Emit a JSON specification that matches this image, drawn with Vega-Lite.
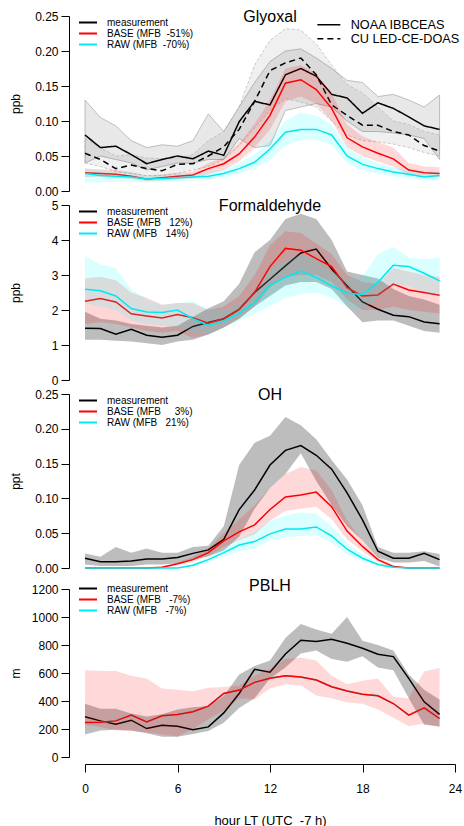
{
"$schema": "https://vega.github.io/schema/vega-lite/v6.json",
"background": "white",
"padding": {"left": 9, "top": 9, "right": 0, "bottom": 0},
"config": {
  "font": "Liberation Sans",
  "view": {"stroke": null},
  "axis": {"grid": false, "domainColor": "black", "tickColor": "black", "labelColor": "black", "titleColor": "black", "labelFontSize": 12, "titleFontSize": 12, "titleFontWeight": "normal", "tickSize": 8, "domainWidth": 1, "tickWidth": 1, "labelFlush": false, "labelOverlap": false},
  "axisY": {"offset": 16, "labelPadding": 3, "titleX": -50, "titleBaseline": "alphabetic", "labelOverlap": false},
  "title": {"fontSize": 16, "fontWeight": "normal", "color": "black", "frame": "group", "anchor": "middle", "baseline": "middle", "offset": -15},
  "legend": {"orient": "none", "title": null, "padding": 0, "labelColor": "black", "labelLimit": 400}
},
"datasets": {"d": [
{"p":"g","s":"M","i":"N","h":0,"v":0.080,"lo":0.040,"hi":0.130},
{"p":"g","s":"M","i":"N","h":1,"v":0.062,"lo":0.050,"hi":0.105},
{"p":"g","s":"M","i":"N","h":2,"v":0.064,"lo":0.045,"hi":0.093},
{"p":"g","s":"M","i":"N","h":3,"v":0.052,"lo":0.040,"hi":0.072},
{"p":"g","s":"M","i":"N","h":4,"v":0.039,"lo":0.030,"hi":0.062},
{"p":"g","s":"M","i":"N","h":5,"v":0.045,"lo":0.035,"hi":0.066},
{"p":"g","s":"M","i":"N","h":6,"v":0.050,"lo":0.040,"hi":0.064},
{"p":"g","s":"M","i":"N","h":7,"v":0.046,"lo":0.040,"hi":0.072},
{"p":"g","s":"M","i":"N","h":8,"v":0.057,"lo":0.045,"hi":0.110},
{"p":"g","s":"M","i":"N","h":9,"v":0.051,"lo":0.045,"hi":0.085},
{"p":"g","s":"M","i":"N","h":10,"v":0.099,"lo":0.075,"hi":0.120},
{"p":"g","s":"M","i":"N","h":11,"v":0.128,"lo":0.062,"hi":0.155},
{"p":"g","s":"M","i":"N","h":12,"v":0.123,"lo":0.065,"hi":0.185},
{"p":"g","s":"M","i":"N","h":13,"v":0.166,"lo":0.115,"hi":0.200},
{"p":"g","s":"M","i":"N","h":14,"v":0.175,"lo":0.120,"hi":0.203},
{"p":"g","s":"M","i":"N","h":15,"v":0.164,"lo":0.125,"hi":0.190},
{"p":"g","s":"M","i":"N","h":16,"v":0.138,"lo":0.120,"hi":0.175},
{"p":"g","s":"M","i":"N","h":17,"v":0.133,"lo":0.100,"hi":0.158},
{"p":"g","s":"M","i":"N","h":18,"v":0.111,"lo":0.085,"hi":0.155},
{"p":"g","s":"M","i":"N","h":19,"v":0.126,"lo":0.085,"hi":0.135},
{"p":"g","s":"M","i":"N","h":20,"v":0.118,"lo":0.083,"hi":0.138},
{"p":"g","s":"M","i":"N","h":21,"v":0.106,"lo":0.080,"hi":0.130},
{"p":"g","s":"M","i":"N","h":22,"v":0.093,"lo":0.075,"hi":0.120},
{"p":"g","s":"M","i":"N","h":23,"v":0.088,"lo":0.045,"hi":0.137},
{"p":"g","s":"M","i":"C","h":0,"v":0.054,"lo":0.040,"hi":0.075},
{"p":"g","s":"M","i":"C","h":1,"v":0.045,"lo":0.035,"hi":0.062},
{"p":"g","s":"M","i":"C","h":2,"v":0.032,"lo":0.028,"hi":0.050},
{"p":"g","s":"M","i":"C","h":3,"v":0.037,"lo":0.025,"hi":0.052},
{"p":"g","s":"M","i":"C","h":4,"v":0.032,"lo":0.022,"hi":0.047},
{"p":"g","s":"M","i":"C","h":5,"v":0.029,"lo":0.022,"hi":0.046},
{"p":"g","s":"M","i":"C","h":6,"v":0.038,"lo":0.025,"hi":0.047},
{"p":"g","s":"M","i":"C","h":7,"v":0.039,"lo":0.030,"hi":0.052},
{"p":"g","s":"M","i":"C","h":8,"v":0.050,"lo":0.035,"hi":0.072},
{"p":"g","s":"M","i":"C","h":9,"v":0.063,"lo":0.045,"hi":0.085},
{"p":"g","s":"M","i":"C","h":10,"v":0.088,"lo":0.065,"hi":0.120},
{"p":"g","s":"M","i":"C","h":11,"v":0.128,"lo":0.090,"hi":0.180},
{"p":"g","s":"M","i":"C","h":12,"v":0.172,"lo":0.115,"hi":0.215},
{"p":"g","s":"M","i":"C","h":13,"v":0.183,"lo":0.132,"hi":0.232},
{"p":"g","s":"M","i":"C","h":14,"v":0.190,"lo":0.127,"hi":0.230},
{"p":"g","s":"M","i":"C","h":15,"v":0.166,"lo":0.120,"hi":0.210},
{"p":"g","s":"M","i":"C","h":16,"v":0.123,"lo":0.100,"hi":0.180},
{"p":"g","s":"M","i":"C","h":17,"v":0.108,"lo":0.080,"hi":0.152},
{"p":"g","s":"M","i":"C","h":18,"v":0.094,"lo":0.072,"hi":0.140},
{"p":"g","s":"M","i":"C","h":19,"v":0.094,"lo":0.070,"hi":0.120},
{"p":"g","s":"M","i":"C","h":20,"v":0.085,"lo":0.067,"hi":0.100},
{"p":"g","s":"M","i":"C","h":21,"v":0.080,"lo":0.062,"hi":0.095},
{"p":"g","s":"M","i":"C","h":22,"v":0.065,"lo":0.055,"hi":0.085},
{"p":"g","s":"M","i":"C","h":23,"v":0.057,"lo":0.050,"hi":0.080},
{"p":"g","s":"B","h":0,"v":0.026,"lo":0.020,"hi":0.032},
{"p":"g","s":"B","h":1,"v":0.025,"lo":0.020,"hi":0.031},
{"p":"g","s":"B","h":2,"v":0.024,"lo":0.019,"hi":0.030},
{"p":"g","s":"B","h":3,"v":0.021,"lo":0.017,"hi":0.027},
{"p":"g","s":"B","h":4,"v":0.017,"lo":0.014,"hi":0.022},
{"p":"g","s":"B","h":5,"v":0.019,"lo":0.015,"hi":0.024},
{"p":"g","s":"B","h":6,"v":0.021,"lo":0.017,"hi":0.026},
{"p":"g","s":"B","h":7,"v":0.023,"lo":0.018,"hi":0.028},
{"p":"g","s":"B","h":8,"v":0.032,"lo":0.024,"hi":0.040},
{"p":"g","s":"B","h":9,"v":0.039,"lo":0.030,"hi":0.048},
{"p":"g","s":"B","h":10,"v":0.053,"lo":0.042,"hi":0.068},
{"p":"g","s":"B","h":11,"v":0.077,"lo":0.062,"hi":0.096},
{"p":"g","s":"B","h":12,"v":0.108,"lo":0.088,"hi":0.130},
{"p":"g","s":"B","h":13,"v":0.154,"lo":0.128,"hi":0.175},
{"p":"g","s":"B","h":14,"v":0.159,"lo":0.135,"hi":0.180},
{"p":"g","s":"B","h":15,"v":0.145,"lo":0.125,"hi":0.168},
{"p":"g","s":"B","h":16,"v":0.118,"lo":0.100,"hi":0.140},
{"p":"g","s":"B","h":17,"v":0.076,"lo":0.062,"hi":0.095},
{"p":"g","s":"B","h":18,"v":0.063,"lo":0.050,"hi":0.078},
{"p":"g","s":"B","h":19,"v":0.054,"lo":0.042,"hi":0.070},
{"p":"g","s":"B","h":20,"v":0.046,"lo":0.035,"hi":0.062},
{"p":"g","s":"B","h":21,"v":0.030,"lo":0.022,"hi":0.040},
{"p":"g","s":"B","h":22,"v":0.026,"lo":0.020,"hi":0.035},
{"p":"g","s":"B","h":23,"v":0.025,"lo":0.020,"hi":0.034},
{"p":"g","s":"R","h":0,"v":0.025,"lo":0.012,"hi":0.032},
{"p":"g","s":"R","h":1,"v":0.022,"lo":0.012,"hi":0.030},
{"p":"g","s":"R","h":2,"v":0.021,"lo":0.013,"hi":0.028},
{"p":"g","s":"R","h":3,"v":0.020,"lo":0.013,"hi":0.026},
{"p":"g","s":"R","h":4,"v":0.017,"lo":0.012,"hi":0.022},
{"p":"g","s":"R","h":5,"v":0.018,"lo":0.013,"hi":0.023},
{"p":"g","s":"R","h":6,"v":0.019,"lo":0.014,"hi":0.024},
{"p":"g","s":"R","h":7,"v":0.020,"lo":0.015,"hi":0.025},
{"p":"g","s":"R","h":8,"v":0.021,"lo":0.016,"hi":0.027},
{"p":"g","s":"R","h":9,"v":0.025,"lo":0.019,"hi":0.031},
{"p":"g","s":"R","h":10,"v":0.032,"lo":0.025,"hi":0.040},
{"p":"g","s":"R","h":11,"v":0.041,"lo":0.032,"hi":0.052},
{"p":"g","s":"R","h":12,"v":0.060,"lo":0.044,"hi":0.072},
{"p":"g","s":"R","h":13,"v":0.084,"lo":0.065,"hi":0.100},
{"p":"g","s":"R","h":14,"v":0.088,"lo":0.072,"hi":0.112},
{"p":"g","s":"R","h":15,"v":0.088,"lo":0.073,"hi":0.108},
{"p":"g","s":"R","h":16,"v":0.080,"lo":0.066,"hi":0.095},
{"p":"g","s":"R","h":17,"v":0.050,"lo":0.040,"hi":0.062},
{"p":"g","s":"R","h":18,"v":0.038,"lo":0.030,"hi":0.048},
{"p":"g","s":"R","h":19,"v":0.032,"lo":0.025,"hi":0.040},
{"p":"g","s":"R","h":20,"v":0.027,"lo":0.021,"hi":0.034},
{"p":"g","s":"R","h":21,"v":0.024,"lo":0.018,"hi":0.030},
{"p":"g","s":"R","h":22,"v":0.020,"lo":0.015,"hi":0.026},
{"p":"g","s":"R","h":23,"v":0.022,"lo":0.015,"hi":0.028},
{"p":"f","s":"M","h":0,"v":1.48,"lo":1.15,"hi":1.95},
{"p":"f","s":"M","h":1,"v":1.47,"lo":1.15,"hi":1.75},
{"p":"f","s":"M","h":2,"v":1.31,"lo":1.12,"hi":1.70},
{"p":"f","s":"M","h":3,"v":1.45,"lo":1.10,"hi":1.60},
{"p":"f","s":"M","h":4,"v":1.28,"lo":1.05,"hi":1.55},
{"p":"f","s":"M","h":5,"v":1.22,"lo":1.00,"hi":1.50},
{"p":"f","s":"M","h":6,"v":1.28,"lo":1.10,"hi":1.55},
{"p":"f","s":"M","h":7,"v":1.53,"lo":1.15,"hi":1.80},
{"p":"f","s":"M","h":8,"v":1.64,"lo":1.30,"hi":2.05},
{"p":"f","s":"M","h":9,"v":1.75,"lo":1.50,"hi":2.25},
{"p":"f","s":"M","h":10,"v":2.02,"lo":1.75,"hi":2.75},
{"p":"f","s":"M","h":11,"v":2.50,"lo":2.10,"hi":3.65},
{"p":"f","s":"M","h":12,"v":2.88,"lo":2.40,"hi":4.00},
{"p":"f","s":"M","h":13,"v":3.26,"lo":2.70,"hi":4.60},
{"p":"f","s":"M","h":14,"v":3.63,"lo":2.80,"hi":4.75},
{"p":"f","s":"M","h":15,"v":3.74,"lo":2.80,"hi":4.60},
{"p":"f","s":"M","h":16,"v":3.17,"lo":2.60,"hi":4.00},
{"p":"f","s":"M","h":17,"v":2.69,"lo":2.10,"hi":3.10},
{"p":"f","s":"M","h":18,"v":2.23,"lo":1.65,"hi":3.00},
{"p":"f","s":"M","h":19,"v":2.02,"lo":1.70,"hi":2.90},
{"p":"f","s":"M","h":20,"v":1.85,"lo":1.70,"hi":2.60},
{"p":"f","s":"M","h":21,"v":1.81,"lo":1.55,"hi":2.40},
{"p":"f","s":"M","h":22,"v":1.66,"lo":1.40,"hi":2.30},
{"p":"f","s":"M","h":23,"v":1.61,"lo":1.35,"hi":2.15},
{"p":"f","s":"B","h":0,"v":2.25,"lo":1.60,"hi":2.90},
{"p":"f","s":"B","h":1,"v":2.33,"lo":1.65,"hi":2.95},
{"p":"f","s":"B","h":2,"v":2.23,"lo":1.60,"hi":2.85},
{"p":"f","s":"B","h":3,"v":1.89,"lo":1.50,"hi":2.50},
{"p":"f","s":"B","h":4,"v":1.83,"lo":1.40,"hi":2.35},
{"p":"f","s":"B","h":5,"v":1.77,"lo":1.35,"hi":2.15},
{"p":"f","s":"B","h":6,"v":1.87,"lo":1.40,"hi":2.20},
{"p":"f","s":"B","h":7,"v":1.78,"lo":1.20,"hi":2.20},
{"p":"f","s":"B","h":8,"v":1.62,"lo":1.30,"hi":2.00},
{"p":"f","s":"B","h":9,"v":1.75,"lo":1.50,"hi":2.10},
{"p":"f","s":"B","h":10,"v":2.02,"lo":1.75,"hi":2.40},
{"p":"f","s":"B","h":11,"v":2.50,"lo":2.10,"hi":3.00},
{"p":"f","s":"B","h":12,"v":3.24,"lo":2.65,"hi":3.85},
{"p":"f","s":"B","h":13,"v":3.76,"lo":2.95,"hi":4.25},
{"p":"f","s":"B","h":14,"v":3.71,"lo":3.00,"hi":4.20},
{"p":"f","s":"B","h":15,"v":3.47,"lo":3.00,"hi":3.90},
{"p":"f","s":"B","h":16,"v":3.24,"lo":2.80,"hi":3.60},
{"p":"f","s":"B","h":17,"v":2.64,"lo":2.30,"hi":3.00},
{"p":"f","s":"B","h":18,"v":2.40,"lo":2.00,"hi":2.80},
{"p":"f","s":"B","h":19,"v":2.43,"lo":2.00,"hi":2.75},
{"p":"f","s":"B","h":20,"v":2.74,"lo":2.10,"hi":3.20},
{"p":"f","s":"B","h":21,"v":2.57,"lo":2.00,"hi":3.10},
{"p":"f","s":"B","h":22,"v":2.50,"lo":1.95,"hi":3.00},
{"p":"f","s":"B","h":23,"v":2.42,"lo":1.90,"hi":2.95},
{"p":"f","s":"R","h":0,"v":2.59,"lo":2.20,"hi":3.55},
{"p":"f","s":"R","h":1,"v":2.55,"lo":2.10,"hi":3.30},
{"p":"f","s":"R","h":2,"v":2.40,"lo":2.00,"hi":3.20},
{"p":"f","s":"R","h":3,"v":2.04,"lo":1.70,"hi":2.60},
{"p":"f","s":"R","h":4,"v":1.94,"lo":1.60,"hi":2.30},
{"p":"f","s":"R","h":5,"v":1.93,"lo":1.55,"hi":2.15},
{"p":"f","s":"R","h":6,"v":2.00,"lo":1.50,"hi":2.20},
{"p":"f","s":"R","h":7,"v":1.75,"lo":1.35,"hi":2.25},
{"p":"f","s":"R","h":8,"v":1.56,"lo":1.30,"hi":2.00},
{"p":"f","s":"R","h":9,"v":1.69,"lo":1.50,"hi":2.00},
{"p":"f","s":"R","h":10,"v":1.91,"lo":1.70,"hi":2.20},
{"p":"f","s":"R","h":11,"v":2.21,"lo":1.90,"hi":2.50},
{"p":"f","s":"R","h":12,"v":2.71,"lo":2.10,"hi":3.20},
{"p":"f","s":"R","h":13,"v":2.93,"lo":2.35,"hi":3.40},
{"p":"f","s":"R","h":14,"v":3.11,"lo":2.45,"hi":3.60},
{"p":"f","s":"R","h":15,"v":2.93,"lo":2.50,"hi":3.45},
{"p":"f","s":"R","h":16,"v":2.69,"lo":2.35,"hi":3.10},
{"p":"f","s":"R","h":17,"v":2.48,"lo":2.10,"hi":2.90},
{"p":"f","s":"R","h":18,"v":2.44,"lo":2.00,"hi":2.95},
{"p":"f","s":"R","h":19,"v":2.79,"lo":2.35,"hi":3.60},
{"p":"f","s":"R","h":20,"v":3.28,"lo":2.70,"hi":3.80},
{"p":"f","s":"R","h":21,"v":3.24,"lo":2.70,"hi":3.50},
{"p":"f","s":"R","h":22,"v":3.05,"lo":2.50,"hi":3.45},
{"p":"f","s":"R","h":23,"v":2.83,"lo":2.40,"hi":3.50},
{"p":"o","s":"M","h":0,"v":0.014,"lo":0.005,"hi":0.021},
{"p":"o","s":"M","h":1,"v":0.009,"lo":0.003,"hi":0.016},
{"p":"o","s":"M","h":2,"v":0.009,"lo":0.003,"hi":0.030},
{"p":"o","s":"M","h":3,"v":0.010,"lo":0.003,"hi":0.022},
{"p":"o","s":"M","h":4,"v":0.013,"lo":0.005,"hi":0.028},
{"p":"o","s":"M","h":5,"v":0.013,"lo":0.005,"hi":0.022},
{"p":"o","s":"M","h":6,"v":0.015,"lo":0.007,"hi":0.022},
{"p":"o","s":"M","h":7,"v":0.021,"lo":0.012,"hi":0.030},
{"p":"o","s":"M","h":8,"v":0.026,"lo":0.017,"hi":0.032},
{"p":"o","s":"M","h":9,"v":0.041,"lo":0.025,"hi":0.060},
{"p":"o","s":"M","h":10,"v":0.084,"lo":0.045,"hi":0.148},
{"p":"o","s":"M","h":11,"v":0.112,"lo":0.085,"hi":0.180},
{"p":"o","s":"M","h":12,"v":0.148,"lo":0.115,"hi":0.190},
{"p":"o","s":"M","h":13,"v":0.169,"lo":0.135,"hi":0.217},
{"p":"o","s":"M","h":14,"v":0.176,"lo":0.165,"hi":0.205},
{"p":"o","s":"M","h":15,"v":0.162,"lo":0.125,"hi":0.185},
{"p":"o","s":"M","h":16,"v":0.142,"lo":0.090,"hi":0.155},
{"p":"o","s":"M","h":17,"v":0.108,"lo":0.060,"hi":0.127},
{"p":"o","s":"M","h":18,"v":0.069,"lo":0.040,"hi":0.090},
{"p":"o","s":"M","h":19,"v":0.024,"lo":0.015,"hi":0.030},
{"p":"o","s":"M","h":20,"v":0.014,"lo":0.008,"hi":0.022},
{"p":"o","s":"M","h":21,"v":0.014,"lo":0.008,"hi":0.022},
{"p":"o","s":"M","h":22,"v":0.021,"lo":0.010,"hi":0.024},
{"p":"o","s":"M","h":23,"v":0.012,"lo":0.002,"hi":0.020},
{"p":"o","s":"B","h":0,"v":0,"lo":0,"hi":0},
{"p":"o","s":"B","h":1,"v":0,"lo":0,"hi":0},
{"p":"o","s":"B","h":2,"v":0,"lo":0,"hi":0},
{"p":"o","s":"B","h":3,"v":0,"lo":0,"hi":0},
{"p":"o","s":"B","h":4,"v":0,"lo":0,"hi":0},
{"p":"o","s":"B","h":5,"v":0.001,"lo":0,"hi":0.002},
{"p":"o","s":"B","h":6,"v":0.006,"lo":0.004,"hi":0.008},
{"p":"o","s":"B","h":7,"v":0.012,"lo":0.009,"hi":0.016},
{"p":"o","s":"B","h":8,"v":0.022,"lo":0.017,"hi":0.028},
{"p":"o","s":"B","h":9,"v":0.039,"lo":0.030,"hi":0.050},
{"p":"o","s":"B","h":10,"v":0.052,"lo":0.040,"hi":0.070},
{"p":"o","s":"B","h":11,"v":0.062,"lo":0.048,"hi":0.090},
{"p":"o","s":"B","h":12,"v":0.084,"lo":0.068,"hi":0.115},
{"p":"o","s":"B","h":13,"v":0.102,"lo":0.082,"hi":0.135},
{"p":"o","s":"B","h":14,"v":0.105,"lo":0.085,"hi":0.145},
{"p":"o","s":"B","h":15,"v":0.109,"lo":0.088,"hi":0.140},
{"p":"o","s":"B","h":16,"v":0.088,"lo":0.070,"hi":0.112},
{"p":"o","s":"B","h":17,"v":0.053,"lo":0.041,"hi":0.068},
{"p":"o","s":"B","h":18,"v":0.031,"lo":0.024,"hi":0.040},
{"p":"o","s":"B","h":19,"v":0.012,"lo":0.009,"hi":0.016},
{"p":"o","s":"B","h":20,"v":0.002,"lo":0.001,"hi":0.004},
{"p":"o","s":"B","h":21,"v":0,"lo":0,"hi":0},
{"p":"o","s":"B","h":22,"v":0,"lo":0,"hi":0},
{"p":"o","s":"B","h":23,"v":0,"lo":0,"hi":0},
{"p":"o","s":"R","h":0,"v":0,"lo":0,"hi":0},
{"p":"o","s":"R","h":1,"v":0,"lo":0,"hi":0},
{"p":"o","s":"R","h":2,"v":0,"lo":0,"hi":0},
{"p":"o","s":"R","h":3,"v":0,"lo":0,"hi":0},
{"p":"o","s":"R","h":4,"v":0,"lo":0,"hi":0},
{"p":"o","s":"R","h":5,"v":0,"lo":0,"hi":0},
{"p":"o","s":"R","h":6,"v":0,"lo":0,"hi":0},
{"p":"o","s":"R","h":7,"v":0.004,"lo":0.002,"hi":0.006},
{"p":"o","s":"R","h":8,"v":0.012,"lo":0.008,"hi":0.016},
{"p":"o","s":"R","h":9,"v":0.022,"lo":0.016,"hi":0.028},
{"p":"o","s":"R","h":10,"v":0.033,"lo":0.024,"hi":0.042},
{"p":"o","s":"R","h":11,"v":0.038,"lo":0.028,"hi":0.052},
{"p":"o","s":"R","h":12,"v":0.049,"lo":0.040,"hi":0.068},
{"p":"o","s":"R","h":13,"v":0.056,"lo":0.044,"hi":0.075},
{"p":"o","s":"R","h":14,"v":0.056,"lo":0.046,"hi":0.080},
{"p":"o","s":"R","h":15,"v":0.059,"lo":0.047,"hi":0.078},
{"p":"o","s":"R","h":16,"v":0.046,"lo":0.036,"hi":0.060},
{"p":"o","s":"R","h":17,"v":0.027,"lo":0.020,"hi":0.036},
{"p":"o","s":"R","h":18,"v":0.014,"lo":0.010,"hi":0.020},
{"p":"o","s":"R","h":19,"v":0.005,"lo":0.003,"hi":0.008},
{"p":"o","s":"R","h":20,"v":0.001,"lo":0,"hi":0.002},
{"p":"o","s":"R","h":21,"v":0,"lo":0,"hi":0},
{"p":"o","s":"R","h":22,"v":0,"lo":0,"hi":0},
{"p":"o","s":"R","h":23,"v":0,"lo":0,"hi":0},
{"p":"p","s":"M","h":0,"v":287,"lo":160,"hi":380},
{"p":"p","s":"M","h":1,"v":258,"lo":190,"hi":345},
{"p":"p","s":"M","h":2,"v":234,"lo":195,"hi":345},
{"p":"p","s":"M","h":3,"v":263,"lo":190,"hi":310},
{"p":"p","s":"M","h":4,"v":203,"lo":170,"hi":290},
{"p":"p","s":"M","h":5,"v":227,"lo":145,"hi":305},
{"p":"p","s":"M","h":6,"v":220,"lo":145,"hi":340},
{"p":"p","s":"M","h":7,"v":195,"lo":165,"hi":355},
{"p":"p","s":"M","h":8,"v":215,"lo":185,"hi":365},
{"p":"p","s":"M","h":9,"v":315,"lo":245,"hi":435},
{"p":"p","s":"M","h":10,"v":454,"lo":350,"hi":590},
{"p":"p","s":"M","h":11,"v":626,"lo":420,"hi":650},
{"p":"p","s":"M","h":12,"v":605,"lo":560,"hi":690},
{"p":"p","s":"M","h":13,"v":736,"lo":640,"hi":850},
{"p":"p","s":"M","h":14,"v":834,"lo":740,"hi":950},
{"p":"p","s":"M","h":15,"v":825,"lo":760,"hi":910},
{"p":"p","s":"M","h":16,"v":841,"lo":700,"hi":880},
{"p":"p","s":"M","h":17,"v":813,"lo":680,"hi":1000},
{"p":"p","s":"M","h":18,"v":777,"lo":720,"hi":830},
{"p":"p","s":"M","h":19,"v":734,"lo":640,"hi":800},
{"p":"p","s":"M","h":20,"v":717,"lo":620,"hi":760},
{"p":"p","s":"M","h":21,"v":562,"lo":420,"hi":590},
{"p":"p","s":"M","h":22,"v":394,"lo":230,"hi":480},
{"p":"p","s":"M","h":23,"v":304,"lo":220,"hi":410},
{"p":"p","s":"B","h":0,"v":246,"lo":230,"hi":620},
{"p":"p","s":"B","h":1,"v":249,"lo":215,"hi":615},
{"p":"p","s":"B","h":2,"v":258,"lo":190,"hi":615},
{"p":"p","s":"B","h":3,"v":299,"lo":185,"hi":580},
{"p":"p","s":"B","h":4,"v":251,"lo":175,"hi":560},
{"p":"p","s":"B","h":5,"v":294,"lo":160,"hi":490},
{"p":"p","s":"B","h":6,"v":304,"lo":145,"hi":480},
{"p":"p","s":"B","h":7,"v":323,"lo":200,"hi":470},
{"p":"p","s":"B","h":8,"v":363,"lo":270,"hi":495},
{"p":"p","s":"B","h":9,"v":454,"lo":330,"hi":500},
{"p":"p","s":"B","h":10,"v":478,"lo":420,"hi":510},
{"p":"p","s":"B","h":11,"v":533,"lo":410,"hi":580},
{"p":"p","s":"B","h":12,"v":562,"lo":490,"hi":630},
{"p":"p","s":"B","h":13,"v":581,"lo":520,"hi":700},
{"p":"p","s":"B","h":14,"v":571,"lo":510,"hi":710},
{"p":"p","s":"B","h":15,"v":550,"lo":440,"hi":690},
{"p":"p","s":"B","h":16,"v":502,"lo":420,"hi":580},
{"p":"p","s":"B","h":17,"v":471,"lo":390,"hi":520},
{"p":"p","s":"B","h":18,"v":449,"lo":380,"hi":545},
{"p":"p","s":"B","h":19,"v":437,"lo":340,"hi":560},
{"p":"p","s":"B","h":20,"v":382,"lo":280,"hi":430},
{"p":"p","s":"B","h":21,"v":299,"lo":220,"hi":420},
{"p":"p","s":"B","h":22,"v":351,"lo":240,"hi":610},
{"p":"p","s":"B","h":23,"v":275,"lo":210,"hi":635},
{"p":"p","s":"R","h":0,"v":246},
{"p":"p","s":"R","h":1,"v":249},
{"p":"p","s":"R","h":2,"v":258},
{"p":"p","s":"R","h":3,"v":299},
{"p":"p","s":"R","h":4,"v":251},
{"p":"p","s":"R","h":5,"v":294},
{"p":"p","s":"R","h":6,"v":304},
{"p":"p","s":"R","h":7,"v":323},
{"p":"p","s":"R","h":8,"v":363},
{"p":"p","s":"R","h":9,"v":454},
{"p":"p","s":"R","h":10,"v":478},
{"p":"p","s":"R","h":11,"v":533},
{"p":"p","s":"R","h":12,"v":562},
{"p":"p","s":"R","h":13,"v":581},
{"p":"p","s":"R","h":14,"v":571},
{"p":"p","s":"R","h":15,"v":550},
{"p":"p","s":"R","h":16,"v":502},
{"p":"p","s":"R","h":17,"v":471},
{"p":"p","s":"R","h":18,"v":449},
{"p":"p","s":"R","h":19,"v":437},
{"p":"p","s":"R","h":20,"v":382},
{"p":"p","s":"R","h":21,"v":299},
{"p":"p","s":"R","h":22,"v":351},
{"p":"p","s":"R","h":23,"v":275}
]},
"bounds": "flush",
"spacing": 14,
"resolve": {"scale": {"stroke": "independent", "strokeDash": "independent"}, "legend": {"stroke": "independent", "strokeDash": "independent"}},
"vconcat": [
{
  "width": 370, "height": 175,
  "data": {"name": "d"},
  "transform": [{"filter": "datum.p === 'g'"}],
  "title": {"text": "Glyoxal"},
  "encoding": {"x": {"field": "h", "type": "quantitative", "scale": {"domain": [0, 24], "nice": false, "zero": false}, "axis": null}},
  "layer": [
    {"transform": [{"filter": "datum.s === 'M' && datum.i === 'N'"}],
     "mark": {"type": "area", "fill": "#000000", "fillOpacity": 0.09, "stroke": "#999999", "strokeWidth": 0.6},
     "encoding": {"y": {"field": "lo", "type": "quantitative", "scale": {"domain": [0, 0.25], "nice": false, "zero": false}, "axis": {"values": [0, 0.05, 0.1, 0.15, 0.2, 0.25], "format": ".2f", "title": "ppb", "labelOverlap": false, "tickCount": 6}}, "y2": {"field": "hi"}}},
    {"transform": [{"filter": "datum.s === 'M' && datum.i === 'C'"}],
     "mark": {"type": "area", "fill": "#000000", "fillOpacity": 0.06, "stroke": "#aaaaaa", "strokeWidth": 0.6, "strokeDash": [3, 2]},
     "encoding": {"y": {"field": "lo", "type": "quantitative", "scale": {"domain": [0, 0.25], "nice": false, "zero": false}, "axis": {"values": [0, 0.05, 0.1, 0.15, 0.2, 0.25], "format": ".2f", "title": "ppb", "labelOverlap": false, "tickCount": 6}}, "y2": {"field": "hi"}}},
    {"transform": [{"filter": "datum.s === 'M'"}],
     "mark": {"type": "line", "strokeWidth": 1.5},
     "encoding": {
       "y": {"field": "v", "type": "quantitative", "scale": {"domain": [0, 0.25], "nice": false, "zero": false}, "axis": {"values": [0, 0.05, 0.1, 0.15, 0.2, 0.25], "format": ".2f", "title": "ppb", "labelOverlap": false, "tickCount": 6}},
       "stroke": {"field": "s", "type": "nominal", "scale": {"domain": ["M", "B", "R"], "range": ["#000000", "#ff0000", "#00e8f0"]},
         "legend": {"legendX": -2.5, "legendY": 1, "symbolType": "M-2,0H2", "symbolSize": 81, "symbolStrokeWidth": 2, "labelFontSize": 10, "labelOffset": 13.5, "rowPadding": -1,
           "labelExpr": "datum.label === 'M' ? 'measurement' : datum.label === 'B' ? 'BASE (MFB\u00a0\u00a0-51%)' : '\u00a0RAW (MFB\u00a0\u00a0-70%)'"}},
       "strokeDash": {"field": "i", "type": "nominal", "scale": {"domain": ["N", "C"], "range": [[1, 0], [6, 4]]},
         "legend": {"legendX": 237.5, "legendY": 2.5, "symbolType": "M-2.3,0H2.3", "symbolSize": 100, "symbolStrokeWidth": 1.5, "symbolStrokeColor": "black", "labelFontSize": 12.7, "labelOffset": 15.5, "rowPadding": -1,
           "labelExpr": "datum.label === 'N' ? 'NOAA IBBCEAS' : 'CU LED-CE-DOAS'"}}
     }},
    {"transform": [{"filter": "datum.s === 'B'"}],
     "mark": {"type": "area", "fill": "#ff0000", "fillOpacity": 0.15},
     "encoding": {"y": {"field": "lo", "type": "quantitative", "scale": {"domain": [0, 0.25], "nice": false, "zero": false}, "axis": {"values": [0, 0.05, 0.1, 0.15, 0.2, 0.25], "format": ".2f", "title": "ppb", "labelOverlap": false, "tickCount": 6}}, "y2": {"field": "hi"}}},
    {"transform": [{"filter": "datum.s === 'B'"}],
     "mark": {"type": "line", "strokeWidth": 1.5},
     "encoding": {"y": {"field": "v", "type": "quantitative", "scale": {"domain": [0, 0.25], "nice": false, "zero": false}, "axis": {"values": [0, 0.05, 0.1, 0.15, 0.2, 0.25], "format": ".2f", "title": "ppb", "labelOverlap": false, "tickCount": 6}}, "stroke": {"field": "s", "type": "nominal"}}},
    {"transform": [{"filter": "datum.s === 'R'"}],
     "mark": {"type": "area", "fill": "#00ffff", "fillOpacity": 0.15},
     "encoding": {"y": {"field": "lo", "type": "quantitative", "scale": {"domain": [0, 0.25], "nice": false, "zero": false}, "axis": {"values": [0, 0.05, 0.1, 0.15, 0.2, 0.25], "format": ".2f", "title": "ppb", "labelOverlap": false, "tickCount": 6}}, "y2": {"field": "hi"}}},
    {"transform": [{"filter": "datum.s === 'R'"}],
     "mark": {"type": "line", "strokeWidth": 1.5},
     "encoding": {"y": {"field": "v", "type": "quantitative", "scale": {"domain": [0, 0.25], "nice": false, "zero": false}, "axis": {"values": [0, 0.05, 0.1, 0.15, 0.2, 0.25], "format": ".2f", "title": "ppb", "labelOverlap": false, "tickCount": 6}}, "stroke": {"field": "s", "type": "nominal"}}}
  ]
},
{
  "width": 370, "height": 175,
  "data": {"name": "d"},
  "transform": [{"filter": "datum.p === 'f'"}],
  "title": {"text": "Formaldehyde"},
  "encoding": {"x": {"field": "h", "type": "quantitative", "scale": {"domain": [0, 24], "nice": false, "zero": false}, "axis": null}},
  "layer": [
    {"transform": [{"filter": "datum.s === 'M'"}],
     "mark": {"type": "area", "fill": "#000000", "fillOpacity": 0.26},
     "encoding": {"y": {"field": "lo", "type": "quantitative", "scale": {"domain": [0, 5], "nice": false, "zero": false}, "axis": {"values": [0, 1, 2, 3, 4, 5], "format": "d", "title": "ppb", "labelOverlap": false, "tickCount": 6}}, "y2": {"field": "hi"}}},
    {"transform": [{"filter": "datum.s === 'M'"}],
     "mark": {"type": "line", "strokeWidth": 1.5},
     "encoding": {
       "y": {"field": "v", "type": "quantitative", "scale": {"domain": [0, 5], "nice": false, "zero": false}, "axis": {"values": [0, 1, 2, 3, 4, 5], "format": "d", "title": "ppb", "labelOverlap": false, "tickCount": 6}},
       "stroke": {"field": "s", "type": "nominal", "scale": {"domain": ["M", "B", "R"], "range": ["#000000", "#ff0000", "#00e8f0"]},
         "legend": {"legendX": -2.5, "legendY": 1, "symbolType": "M-2,0H2", "symbolSize": 81, "symbolStrokeWidth": 2, "labelFontSize": 10, "labelOffset": 13.5, "rowPadding": -1,
           "labelExpr": "datum.label === 'M' ? 'measurement' : datum.label === 'B' ? 'BASE (MFB\u00a0\u00a0\u00a012%)' : '\u00a0RAW (MFB\u00a0\u00a0\u00a014%)'"}}
     }},
    {"transform": [{"filter": "datum.s === 'B'"}],
     "mark": {"type": "area", "fill": "#ff0000", "fillOpacity": 0.16},
     "encoding": {"y": {"field": "lo", "type": "quantitative", "scale": {"domain": [0, 5], "nice": false, "zero": false}, "axis": {"values": [0, 1, 2, 3, 4, 5], "format": "d", "title": "ppb", "labelOverlap": false, "tickCount": 6}}, "y2": {"field": "hi"}}},
    {"transform": [{"filter": "datum.s === 'B'"}],
     "mark": {"type": "line", "strokeWidth": 1.5},
     "encoding": {"y": {"field": "v", "type": "quantitative", "scale": {"domain": [0, 5], "nice": false, "zero": false}, "axis": {"values": [0, 1, 2, 3, 4, 5], "format": "d", "title": "ppb", "labelOverlap": false, "tickCount": 6}}, "stroke": {"field": "s", "type": "nominal"}}},
    {"transform": [{"filter": "datum.s === 'R'"}],
     "mark": {"type": "area", "fill": "#00ffff", "fillOpacity": 0.15},
     "encoding": {"y": {"field": "lo", "type": "quantitative", "scale": {"domain": [0, 5], "nice": false, "zero": false}, "axis": {"values": [0, 1, 2, 3, 4, 5], "format": "d", "title": "ppb", "labelOverlap": false, "tickCount": 6}}, "y2": {"field": "hi"}}},
    {"transform": [{"filter": "datum.s === 'R'"}],
     "mark": {"type": "line", "strokeWidth": 1.5},
     "encoding": {"y": {"field": "v", "type": "quantitative", "scale": {"domain": [0, 5], "nice": false, "zero": false}, "axis": {"values": [0, 1, 2, 3, 4, 5], "format": "d", "title": "ppb", "labelOverlap": false, "tickCount": 6}}, "stroke": {"field": "s", "type": "nominal"}}}
  ]
},
{
  "width": 370, "height": 174,
  "data": {"name": "d"},
  "transform": [{"filter": "datum.p === 'o'"}],
  "title": {"text": "OH"},
  "encoding": {"x": {"field": "h", "type": "quantitative", "scale": {"domain": [0, 24], "nice": false, "zero": false}, "axis": null}},
  "layer": [
    {"transform": [{"filter": "datum.s === 'M'"}],
     "mark": {"type": "area", "fill": "#000000", "fillOpacity": 0.26},
     "encoding": {"y": {"field": "lo", "type": "quantitative", "scale": {"domain": [0, 0.25], "nice": false, "zero": false}, "axis": {"values": [0, 0.05, 0.1, 0.15, 0.2, 0.25], "format": ".2f", "title": "ppt", "labelOverlap": false, "tickCount": 6}}, "y2": {"field": "hi"}}},
    {"transform": [{"filter": "datum.s === 'M'"}],
     "mark": {"type": "line", "strokeWidth": 1.5},
     "encoding": {
       "y": {"field": "v", "type": "quantitative", "scale": {"domain": [0, 0.25], "nice": false, "zero": false}, "axis": {"values": [0, 0.05, 0.1, 0.15, 0.2, 0.25], "format": ".2f", "title": "ppt", "labelOverlap": false, "tickCount": 6}},
       "stroke": {"field": "s", "type": "nominal", "scale": {"domain": ["M", "B", "R"], "range": ["#000000", "#ff0000", "#00e8f0"]},
         "legend": {"legendX": -2.5, "legendY": 1, "symbolType": "M-2,0H2", "symbolSize": 81, "symbolStrokeWidth": 2, "labelFontSize": 10, "labelOffset": 13.5, "rowPadding": -1,
           "labelExpr": "datum.label === 'M' ? 'measurement' : datum.label === 'B' ? 'BASE (MFB\u00a0\u00a0\u00a0\u00a0\u00a03%)' : '\u00a0RAW (MFB\u00a0\u00a0\u00a021%)'"}}
     }},
    {"transform": [{"filter": "datum.s === 'B'"}],
     "mark": {"type": "area", "fill": "#ff0000", "fillOpacity": 0.15},
     "encoding": {"y": {"field": "lo", "type": "quantitative", "scale": {"domain": [0, 0.25], "nice": false, "zero": false}, "axis": {"values": [0, 0.05, 0.1, 0.15, 0.2, 0.25], "format": ".2f", "title": "ppt", "labelOverlap": false, "tickCount": 6}}, "y2": {"field": "hi"}}},
    {"transform": [{"filter": "datum.s === 'B'"}],
     "mark": {"type": "line", "strokeWidth": 1.5},
     "encoding": {"y": {"field": "v", "type": "quantitative", "scale": {"domain": [0, 0.25], "nice": false, "zero": false}, "axis": {"values": [0, 0.05, 0.1, 0.15, 0.2, 0.25], "format": ".2f", "title": "ppt", "labelOverlap": false, "tickCount": 6}}, "stroke": {"field": "s", "type": "nominal"}}},
    {"transform": [{"filter": "datum.s === 'R'"}],
     "mark": {"type": "area", "fill": "#00ffff", "fillOpacity": 0.15},
     "encoding": {"y": {"field": "lo", "type": "quantitative", "scale": {"domain": [0, 0.25], "nice": false, "zero": false}, "axis": {"values": [0, 0.05, 0.1, 0.15, 0.2, 0.25], "format": ".2f", "title": "ppt", "labelOverlap": false, "tickCount": 6}}, "y2": {"field": "hi"}}},
    {"transform": [{"filter": "datum.s === 'R'"}],
     "mark": {"type": "line", "strokeWidth": 1.5},
     "encoding": {"y": {"field": "v", "type": "quantitative", "scale": {"domain": [0, 0.25], "nice": false, "zero": false}, "axis": {"values": [0, 0.05, 0.1, 0.15, 0.2, 0.25], "format": ".2f", "title": "ppt", "labelOverlap": false, "tickCount": 6}}, "stroke": {"field": "s", "type": "nominal"}}}
  ]
},
{
  "width": 370, "height": 175,
  "data": {"name": "d"},
  "transform": [{"filter": "datum.p === 'p'"}],
  "title": {"text": "PBLH", "offset": -12},
  "encoding": {"x": {"field": "h", "type": "quantitative", "scale": {"domain": [0, 24], "nice": false, "zero": false},
    "axis": {"values": [0, 6, 12, 18, 24], "format": "d", "title": "hour LT (UTC\u00a0\u00a0-7 h)", "offset": 7, "labelPadding": 11, "titlePadding": 20, "titleFontSize": 13}}},
  "layer": [
    {"transform": [{"filter": "datum.s === 'M'"}],
     "mark": {"type": "area", "fill": "#000000", "fillOpacity": 0.26},
     "encoding": {"y": {"field": "lo", "type": "quantitative", "scale": {"domain": [0, 1200], "range": [175, 7], "nice": false, "zero": false}, "axis": {"values": [0, 200, 400, 600, 800, 1000, 1200], "format": "d", "title": "m", "labelOverlap": false, "tickCount": 7}}, "y2": {"field": "hi"}}},
    {"transform": [{"filter": "datum.s === 'M'"}],
     "mark": {"type": "line", "strokeWidth": 1.5},
     "encoding": {
       "y": {"field": "v", "type": "quantitative", "scale": {"domain": [0, 1200], "range": [175, 7], "nice": false, "zero": false}, "axis": {"values": [0, 200, 400, 600, 800, 1000, 1200], "format": "d", "title": "m", "labelOverlap": false, "tickCount": 7}},
       "stroke": {"field": "s", "type": "nominal", "scale": {"domain": ["M", "B", "R"], "range": ["#000000", "#ff0000", "#00e8f0"]},
         "legend": {"legendX": -2.5, "legendY": 1, "symbolType": "M-2,0H2", "symbolSize": 81, "symbolStrokeWidth": 2, "labelFontSize": 10, "labelOffset": 13.5, "rowPadding": -1,
           "labelExpr": "datum.label === 'M' ? 'measurement' : datum.label === 'B' ? 'BASE (MFB\u00a0\u00a0\u00a0-7%)' : '\u00a0RAW (MFB\u00a0\u00a0\u00a0-7%)'"}}
     }},
    {"transform": [{"filter": "datum.s === 'R'"}],
     "mark": {"type": "line", "strokeWidth": 1.5},
     "encoding": {"y": {"field": "v", "type": "quantitative", "scale": {"domain": [0, 1200], "range": [175, 7], "nice": false, "zero": false}, "axis": {"values": [0, 200, 400, 600, 800, 1000, 1200], "format": "d", "title": "m", "labelOverlap": false, "tickCount": 7}}, "stroke": {"field": "s", "type": "nominal"}}},
    {"transform": [{"filter": "datum.s === 'B'"}],
     "mark": {"type": "area", "fill": "#ff0000", "fillOpacity": 0.15},
     "encoding": {"y": {"field": "lo", "type": "quantitative", "scale": {"domain": [0, 1200], "range": [175, 7], "nice": false, "zero": false}, "axis": {"values": [0, 200, 400, 600, 800, 1000, 1200], "format": "d", "title": "m", "labelOverlap": false, "tickCount": 7}}, "y2": {"field": "hi"}}},
    {"transform": [{"filter": "datum.s === 'B'"}],
     "mark": {"type": "line", "strokeWidth": 1.5},
     "encoding": {"y": {"field": "v", "type": "quantitative", "scale": {"domain": [0, 1200], "range": [175, 7], "nice": false, "zero": false}, "axis": {"values": [0, 200, 400, 600, 800, 1000, 1200], "format": "d", "title": "m", "labelOverlap": false, "tickCount": 7}}, "stroke": {"field": "s", "type": "nominal"}}}
  ]
}
]
}
